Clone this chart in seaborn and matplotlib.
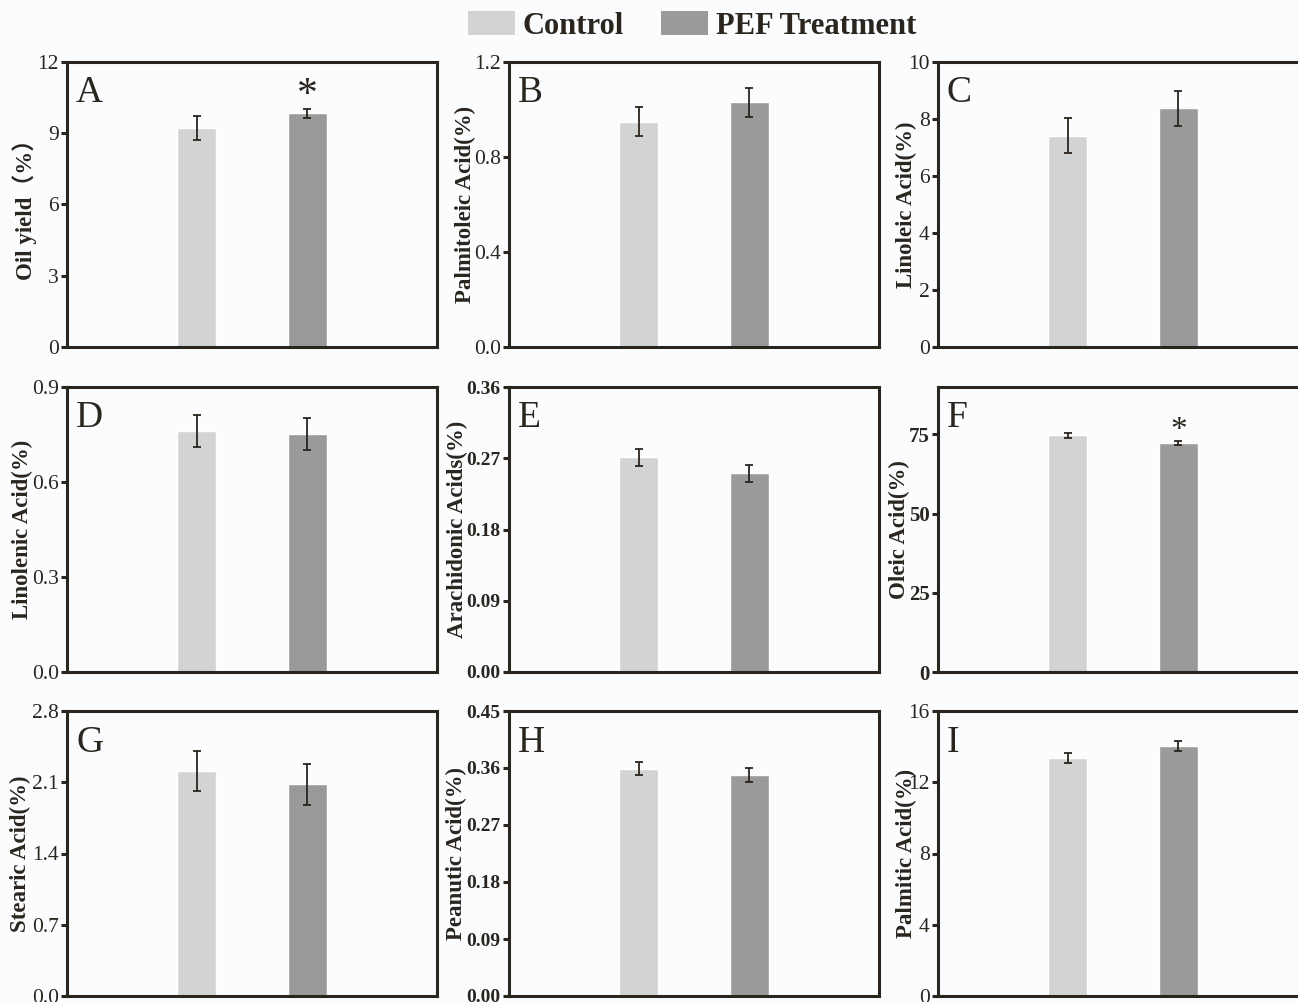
import numpy as np
import pandas as pd
import matplotlib
matplotlib.use("Agg")
import matplotlib.pyplot as plt
import seaborn as sns
from matplotlib.patches import Patch

# ---------------- data ----------------
groups = ["Control", "PEF Treatment"]
letters = ["A", "B", "C", "D", "E", "F", "G", "H", "I"]
ylabels = ["Oil yield（%）", "Palmitoleic Acid(%)", "Linoleic Acid(%)",
           "Linolenic Acid(%)", "Arachidonic Acids(%)", "Oleic Acid(%)",
           "Stearic Acid(%)", "Peanutic Acid(%)", "Palmitic Acid(%)"]
control_mean = [9.21, 0.949, 7.42, 0.762, 0.271, 74.7, 2.21, 0.359, 13.37]
control_err = [0.50, 0.060, 0.60, 0.050, 0.0105, 0.9, 0.20, 0.0105, 0.30]
pef_mean = [9.84, 1.030, 8.37, 0.752, 0.251, 72.4, 2.08, 0.349, 14.03]
pef_err = [0.20, 0.060, 0.60, 0.050, 0.0105, 0.7, 0.20, 0.0105, 0.30]
significant = [True, False, False, False, False, True, False, False, False]
ymax = [12, 1.2, 10, 0.9, 0.36, 90, 2.8, 0.45, 16]
ytick_values = [[0, 3, 6, 9, 12], [0.0, 0.4, 0.8, 1.2], [0, 2, 4, 6, 8, 10],
                [0.0, 0.3, 0.6, 0.9], [0.00, 0.09, 0.18, 0.27, 0.36],
                [0, 25, 50, 75], [0.0, 0.7, 1.4, 2.1, 2.8],
                [0.00, 0.09, 0.18, 0.27, 0.36, 0.45], [0, 4, 8, 12, 16]]
ytick_labels = [["0", "3", "6", "9", "12"], ["0.0", "0.4", "0.8", "1.2"],
                ["0", "2", "4", "6", "8", "10"], ["0.0", "0.3", "0.6", "0.9"],
                ["0.00", "0.09", "0.18", "0.27", "0.36"], ["0", "25", "50", "75"],
                ["0.0", "0.7", "1.4", "2.1", "2.8"],
                ["0.00", "0.09", "0.18", "0.27", "0.36", "0.45"],
                ["0", "4", "8", "12", "16"]]
bold_ticks = [False, False, False, False, True, True, False, True, False]

# ---------------- style ----------------
BG = "#fbfcfe"
DARK = "#2a251e"
palette = {"Control": "#d2d4d4", "PEF Treatment": "#999a99"}

sns.set_style("white")
plt.rcParams["font.family"] = ["Liberation Serif", "Noto Sans CJK SC", "DejaVu Sans"]
plt.rcParams["axes.facecolor"] = BG
plt.rcParams["figure.facecolor"] = BG

W, H = 1298, 1002
fig = plt.figure(figsize=(W / 100, H / 100), dpi=100)

col_left = [67, 509, 938]
row_top = [62, 387, 711]
aw, ah = 370, 285
label_off = [42, 44, 32, 45, 52, 39, 47, 53, 32]
tick_size = [15.5, 15.5, 15.5, 15.5, 14, 15, 15.5, 14, 15.5]

for i in range(9):
    r, c = divmod(i, 3)
    l, t = col_left[c], row_top[r]
    ax = fig.add_axes([l / W, 1 - (t + ah) / H, aw / W, ah / H])
    df = pd.DataFrame({"group": groups,
                       "value": [control_mean[i], pef_mean[i]]})
    sns.barplot(data=df, x="group", y="value", hue="group", palette=palette,
                order=groups, hue_order=groups, width=0.351, errorbar=None,
                legend=False, ax=ax, saturation=1)
    ax.errorbar([0, 1], [control_mean[i], pef_mean[i]],
                yerr=[control_err[i], pef_err[i]], fmt="none",
                ecolor=DARK, elinewidth=1.3, capsize=3, capthick=1.3)
    ax.set_xlim(-1.1667, 2.1667)
    ax.set_ylim(0, ymax[i])
    ax.set_xticks([])
    ax.set_xlabel("")
    ax.set_yticks(ytick_values[i])
    ax.set_yticklabels(ytick_labels[i], fontsize=tick_size[i],
                       fontweight="bold" if bold_ticks[i] else "normal",
                       color=DARK)
    ax.tick_params(axis="y", direction="out", length=4, width=2.2,
                   color=DARK, pad=2, left=True)
    for s in ax.spines.values():
        s.set_visible(True)
        s.set_linewidth(2.2)
        s.set_color(DARK)
    ax.set_ylabel(ylabels[i], fontsize=16.5, fontweight="bold", color=DARK,
                  va="center", ha="center",
                  family=["Liberation Serif", "Noto Sans CJK SC"])
    ax.yaxis.set_label_coords(-label_off[i] / aw, 0.5)
    ax.text(9 / aw, 1 - 14 / ah, letters[i], transform=ax.transAxes,
            fontsize=27, color=DARK, va="top", ha="left")
    if significant[i]:
        ax.annotate("*", xy=(1, pef_mean[i] + pef_err[i]),
                    xytext=(0, -5 if i == 0 else -4), textcoords="offset points",
                    ha="center", va="bottom", color=DARK,
                    fontsize=30 if i == 0 else 24)

handles = [Patch(facecolor=palette[g], edgecolor="none") for g in groups]
fig.legend(handles, groups, loc="center", ncol=2,
           bbox_to_anchor=(692 / W, 1 - 26 / H), frameon=False,
           prop={"family": "Liberation Serif", "weight": "bold", "size": 22},
           handlelength=1.55, handleheight=0.8, handletextpad=0.25,
           columnspacing=1.2, labelcolor=DARK)

fig.savefig("out.png", dpi=100, facecolor=BG)
